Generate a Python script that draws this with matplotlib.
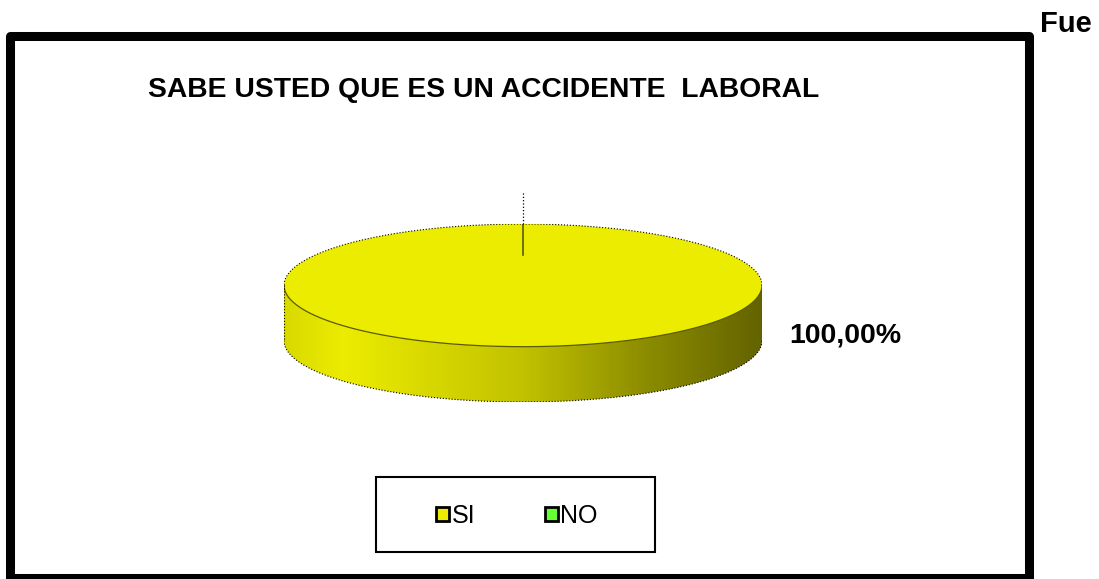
import matplotlib
matplotlib.use("Agg")
import matplotlib.pyplot as plt
import numpy as np
from matplotlib.patches import Wedge, Rectangle, Polygon, Patch

plt.rcParams['font.family'] = ['Liberation Sans', 'DejaVu Sans']

# data
categories = ["SI", "NO"]
values = [100.0, 0.0]
colors = ["#ECEC00", "#66FF33"]
title = "SABE USTED QUE ES UN ACCIDENTE  LABORAL"

W, H = 1099, 579
fig = plt.figure(figsize=(W / 100, H / 100), dpi=100)

# outer frame
bg = fig.add_axes([0, 0, 1, 1])
bg.set_xlim(0, W)
bg.set_ylim(H, 0)
bg.axis('off')
bg.add_patch(Rectangle((9.5, 35.5), 1029 - 9.5, 578 - 35.5, fill=False,
                       edgecolor='black', lw=6.5, joinstyle='round'))

fig.text(484 / W, 1 - 90 / H, title, ha='center', va='center',
         fontsize=20.3, fontweight='bold')
fig.text(1040 / W, 1 - 24 / H, "Fue", ha='left', va='center',
         fontsize=21, fontweight='bold')

# 3D pie axes: unit circle squashed to an ellipse
depth = 55 / 61
ax = fig.add_axes([284 / W, (H - 402) / H, 478 / W, 178 / H])
ax.set_xlim(-1, 1)
ax.set_ylim(-1 - depth, 1)
ax.axis('off')

total = sum(values)
fracs = [v / total for v in values]
starts = 90 - 360 * np.concatenate([[0], np.cumsum(fracs)[:-1]])
ends = 90 - 360 * np.cumsum(fracs)


def shade(x):
    return np.interp(x, [-1, -0.75, 0, 0.5, 1], [0.92, 1.0, 0.82, 0.6, 0.42])


for st, en, col, fr in zip(starts, ends, colors, fracs):
    if fr <= 0:
        continue
    # visible front side (angles in the lower half)
    for k in (-1, 0, 1):
        lo = max(en, -180 + 360 * k)
        hi = min(st, 0 + 360 * k)
        if hi <= lo:
            continue
        t = np.radians(np.linspace(lo, hi, 300))
        xs, ys = np.cos(t), np.sin(t)
        pts = np.vstack([np.column_stack([xs, ys]),
                         np.column_stack([xs[::-1], ys[::-1] - depth])])
        poly = Polygon(pts, closed=True, facecolor='none', edgecolor='none')
        ax.add_patch(poly)
        gx = np.linspace(-1, 1, 400)
        rgb = np.array(matplotlib.colors.to_rgb(col))
        img = np.clip(shade(gx)[:, None] * rgb[None, :], 0, 1)[None, :, :]
        im = ax.imshow(img, extent=(-1, 1, -1 - depth, 1), aspect='auto',
                       zorder=1, interpolation='bilinear')
        im.set_clip_path(poly)
        ax.plot(xs, ys - depth, color='black', ls=':', lw=0.8, zorder=3)
        ax.plot(xs, ys, color='#5a5a00', lw=0.9, zorder=3)
        ax.plot([xs[0], xs[0]], [ys[0], ys[0] - depth], color='black', ls=':', lw=0.8, zorder=3)
        ax.plot([xs[-1], xs[-1]], [ys[-1], ys[-1] - depth], color='black', ls=':', lw=0.8, zorder=3)
    # top face
    ax.add_patch(Wedge((0, 0), 1, en, st, facecolor=col, edgecolor='none', zorder=2))

# back outline of top ellipse
tb = np.radians(np.linspace(0, 180, 300))
ax.plot(np.cos(tb), np.sin(tb), color='black', ls=':', lw=0.8, zorder=3)

# slice boundary at 12 o'clock and leader line
ax.plot([0, 0], [1, 0.5], color='#5a5a00', lw=1.2, zorder=4)
ax.plot([0, 0], [1, 1.52], color='black', ls=':', lw=0.9, zorder=4, clip_on=False)

label = f"{values[0] / total * 100:.2f}%".replace('.', ',')
ax.text(1.35, -0.81, label, ha='center', va='center', fontsize=20.5,
        fontweight='bold', clip_on=False)

# legend box
bg.add_patch(Rectangle((376, 477), 655 - 376, 552 - 477, fill=False,
                       edgecolor='black', lw=1.5))
handles = [Patch(facecolor=c, edgecolor='black', lw=2) for c in colors]
fig.legend(handles, categories, loc='center', bbox_to_anchor=(517 / W, 1 - 516 / H),
           ncol=2, frameon=False, fontsize=18, handlelength=0.5, handleheight=0.5,
           handletextpad=0.1, columnspacing=2.8)

fig.savefig("out.png", dpi=100)
